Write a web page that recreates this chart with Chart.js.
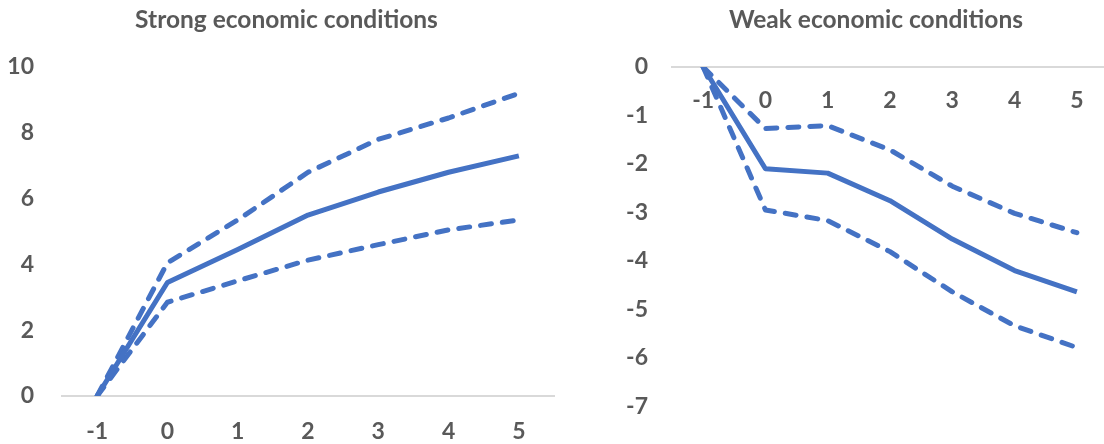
<!DOCTYPE html>
<html>
<head>
<meta charset="utf-8">
<script src="https://cdn.jsdelivr.net/npm/chart.js@4.4.1/dist/chart.umd.min.js"></script>
<style>
  html, body { margin: 0; padding: 0; background: #ffffff; overflow: hidden; width: 1104px; height: 444px; }
  canvas { position: absolute; top: 0; }
  #strong { left: 0; }
  #weak { left: 600px; }
</style>
</head>
<body>
<canvas id="strong" width="573" height="444"></canvas>
<canvas id="weak" width="552" height="444"></canvas>
<script>
// Horizon (years) shared by both panels
const horizons = ['-1', '0', '1', '2', '3', '4', '5'];

// Strong economic conditions: point estimate and confidence band
const strongEstimate = [0, 3.45, 4.45, 5.5, 6.2, 6.8, 7.3];
const strongUpper    = [0, 4.05, 5.35, 6.8, 7.8, 8.45, 9.2];
const strongLower    = [0, 2.85, 3.5, 4.13, 4.6, 5.05, 5.35];

// Weak economic conditions: point estimate and confidence band
const weakEstimate = [0, -2.1, -2.19, -2.76, -3.55, -4.2, -4.64];
const weakUpper    = [0, -1.27, -1.21, -1.71, -2.46, -3.02, -3.42];
const weakLower    = [0, -2.95, -3.17, -3.81, -4.64, -5.34, -5.79];

// Axis ranges
const strongRange = { min: 0, max: 10, step: 2 };
const weakRange   = { min: -7, max: 0, step: 1 };

const BLUE = '#4472C4';
const TEXT = '#595959';
const AXIS = '#d9d9d9';
const FONT = 'Lato, "Open Sans", sans-serif';

function lineSet(data, dashed) {
  return {
    data: data,
    borderColor: BLUE,
    backgroundColor: BLUE,
    borderWidth: 5,
    borderDash: dashed ? [11, 11] : [],
    borderCapStyle: dashed ? 'round' : 'butt',
    borderJoinStyle: 'round',
    pointRadius: 0,
    tension: 0,
    fill: false
  };
}

function makeChart(id, title, est, up, lo, range, geo) {
  return new Chart(document.getElementById(id), {
    type: 'line',
    data: {
      labels: horizons,
      datasets: [lineSet(est, false), lineSet(up, true), lineSet(lo, true)]
    },
    options: {
      responsive: false,
      devicePixelRatio: 1,
      animation: false,
      events: [],
      layout: { padding: geo.padding },
      plugins: {
        legend: { display: false },
        tooltip: { enabled: false },
        title: {
          display: true,
          text: title,
          color: TEXT,
          font: { family: FONT, size: 24.5, weight: 'bold', lineHeight: 1.2 },
          padding: { top: 5, bottom: 32.6 }
        }
      },
      scales: {
        x: {
          type: 'category',
          offset: true,
          position: geo.xPosition,
          grid: { display: true, drawOnChartArea: false, drawTicks: false, color: 'rgba(0,0,0,0)' },
          border: { display: true, color: AXIS, width: 2 },
          ticks: {
            color: TEXT,
            padding: geo.xPad,
            maxRotation: 0,
            autoSkip: false,
            font: { family: FONT, size: 23, weight: 'bold' }
          },
          afterFit: geo.xFit
        },
        y: {
          min: range.min,
          max: range.max,
          grid: { display: false, drawTicks: false },
          border: { display: false },
          ticks: {
            stepSize: range.step,
            color: TEXT,
            padding: geo.yPad,
            font: { family: FONT, size: 23, weight: 'bold' }
          },
          afterFit: function (scale) { scale.width = geo.yWidth; }
        },
        // blank right-hand margin so the title stays centred on the whole panel
        margin: {
          type: 'linear',
          position: 'right',
          min: range.min,
          max: range.max,
          grid: { display: false, drawTicks: false },
          border: { display: false },
          ticks: { display: false },
          afterFit: function (scale) { scale.width = geo.rightMargin; }
        }
      }
    }
  });
}

makeChart('strong', 'Strong economic conditions', strongEstimate, strongUpper, strongLower, strongRange, {
  padding: { left: 0, right: 0, top: 0, bottom: 0 },
  xPosition: 'bottom',
  xPad: 22,
  yWidth: 62,
  yPad: 28,
  rightMargin: 19,
  xFit: function (scale) { scale.height = 48; }
});

makeChart('weak', 'Weak economic conditions', weakEstimate, weakUpper, weakLower, weakRange, {
  padding: { left: 0, right: 0, top: 0, bottom: 23 },
  xPosition: { y: 0 },
  xPad: 20,
  yWidth: 72,
  yPad: 24,
  rightMargin: 44,
  xFit: undefined
});
</script>
</body>
</html>
